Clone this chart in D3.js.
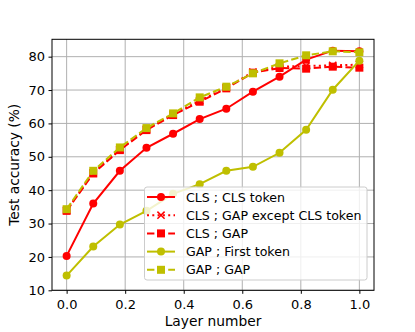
<!DOCTYPE html>
<html>
<head>
<meta charset="utf-8">
<script src="https://cdn.jsdelivr.net/npm/d3@7"></script>
<style>
  body { margin: 0; background: #fff; }
  text { font-family: "DejaVu Sans", sans-serif; }
</style>
</head>
<body>
<div id="chart"></div>
<script>
// Layer positions (12 layers, normalised 0..1)
const layers = d3.range(12).map(i => i / 11);
const xTicks = [0.0, 0.2, 0.4, 0.6, 0.8, 1.0];
const yTicks = [10, 20, 30, 40, 50, 60, 70, 80];

const clsCls = [20.3, 36.0, 45.8, 52.7, 56.9, 61.3, 64.4, 69.5, 74.0, 79.1, 81.8, 81.6];
const clsGapExcept = [34.0, 45.2, 52.2, 58.3, 62.7, 66.8, 70.7, 75.4, 77.0, 77.2, 77.4, 77.6];
const clsGap = [33.8, 45.0, 52.0, 58.0, 62.5, 66.5, 70.5, 75.2, 76.6, 76.4, 77.0, 76.7];
const gapFirst = [14.4, 23.1, 29.7, 33.8, 38.9, 41.8, 45.8, 47.0, 51.2, 58.1, 70.1, 78.8];
const gapGap = [34.3, 45.8, 52.8, 58.6, 63.0, 67.8, 71.0, 75.0, 78.0, 80.4, 81.6, 81.3];

const seriesNames = ["CLS ; CLS token", "CLS ; GAP except CLS token", "CLS ; GAP", "GAP ; First token", "GAP ; GAP"];

const red = "#ff0000", olive = "#bfbf00";
const series = [
  { name: seriesNames[0], values: clsCls, color: red, dash: null, marker: "circle" },
  { name: seriesNames[1], values: clsGapExcept, color: red, dash: "2,3.3", marker: "x" },
  { name: seriesNames[2], values: clsGap, color: red, dash: "7.4,3.2", marker: "square" },
  { name: seriesNames[3], values: gapFirst, color: olive, dash: null, marker: "circle" },
  { name: seriesNames[4], values: gapGap, color: olive, dash: "7.4,3.2", marker: "square" }
];

const W = 415, H = 332;
const plotL = 52, plotR = 374, plotT = 39.3, plotB = 290.3;

const svg = d3.select("#chart").append("svg")
  .attr("width", W).attr("height", H);

const x = d3.scaleLinear().domain([-0.05, 1.05]).range([plotL, plotR]);
const y = d3.scaleLinear().domain([10, 85.2]).range([plotB, plotT]);

// grid
const grid = svg.append("g");
grid.selectAll(".gx").data(xTicks).enter().append("line")
  .attr("x1", d => x(d)).attr("x2", d => x(d))
  .attr("y1", plotT).attr("y2", plotB)
  .attr("stroke", "#b0b0b0").attr("stroke-width", 1);
grid.selectAll(".gy").data(yTicks).enter().append("line")
  .attr("x1", plotL).attr("x2", plotR)
  .attr("y1", d => y(d)).attr("y2", d => y(d))
  .attr("stroke", "#b0b0b0").attr("stroke-width", 1);

// axes
const xAxis = svg.append("g")
  .attr("transform", `translate(0,${plotB})`)
  .call(d3.axisBottom(x).tickValues(xTicks).tickFormat(d3.format(".1f")).tickSize(3.5).tickPadding(6));
const yAxis = svg.append("g")
  .attr("transform", `translate(${plotL},0)`)
  .call(d3.axisLeft(y).tickValues(yTicks).tickSize(3.5).tickPadding(3.5));
[xAxis, yAxis].forEach(a => {
  a.select(".domain").remove();
  a.selectAll("text").attr("font-size", 13).attr("fill", "#000")
    .style("font-family", "DejaVu Sans, sans-serif");
  a.selectAll("line").attr("stroke", "#000").attr("stroke-width", 1);
});

// plot lines
const line = d3.line().x((d, i) => x(layers[i])).y(d => y(d));

function drawMarker(g, type, cx, cy, color) {
  if (type === "circle") {
    g.append("circle").attr("cx", cx).attr("cy", cy).attr("r", 4).attr("fill", color);
  } else if (type === "square") {
    g.append("rect").attr("x", cx - 4).attr("y", cy - 4)
      .attr("width", 8).attr("height", 8).attr("fill", color);
  } else if (type === "x") {
    const s = 3.6;
    g.append("path")
      .attr("d", `M${cx - s},${cy - s}L${cx + s},${cy + s}M${cx - s},${cy + s}L${cx + s},${cy - s}`)
      .attr("stroke", color).attr("stroke-width", 1.5);
  }
}

const plot = svg.append("g");
series.forEach(s => {
  const g = plot.append("g");
  g.append("path").datum(s.values)
    .attr("d", line)
    .attr("fill", "none")
    .attr("stroke", s.color)
    .attr("stroke-width", 2)
    .attr("stroke-dasharray", s.dash);
  s.values.forEach((v, i) => drawMarker(g, s.marker, x(layers[i]), y(v), s.color));
});

// frame
svg.append("rect")
  .attr("x", plotL).attr("y", plotT)
  .attr("width", plotR - plotL).attr("height", plotB - plotT)
  .attr("fill", "none").attr("stroke", "#000").attr("stroke-width", 1);

// axis labels
svg.append("text")
  .attr("x", (plotL + plotR) / 2).attr("y", 326)
  .attr("text-anchor", "middle").attr("font-size", 13.8)
  .text("Layer number");
svg.append("text")
  .attr("transform", `translate(19,${(plotT + plotB) / 2}) rotate(-90)`)
  .attr("text-anchor", "middle").attr("font-size", 13.8)
  .text("Test accuracy (%)");

// legend
const lg = svg.append("g");
lg.append("rect")
  .attr("x", 144.5).attr("y", 187).attr("width", 222.5).attr("height", 93)
  .attr("rx", 2.5)
  .attr("fill", "#fff").attr("fill-opacity", 0.8)
  .attr("stroke", "#cccccc").attr("stroke-width", 1);
series.forEach((s, i) => {
  const cy = 197 + i * 18.2;
  lg.append("line")
    .attr("x1", 147).attr("x2", 175).attr("y1", cy).attr("y2", cy)
    .attr("stroke", s.color).attr("stroke-width", 2)
    .attr("stroke-dasharray", s.dash);
  drawMarker(lg, s.marker, 161, cy, s.color);
  lg.append("text")
    .attr("x", 186).attr("y", cy).attr("dy", "0.36em")
    .attr("font-size", 12.6).attr("fill", "#000")
    .text(s.name);
});
</script>
</body>
</html>
